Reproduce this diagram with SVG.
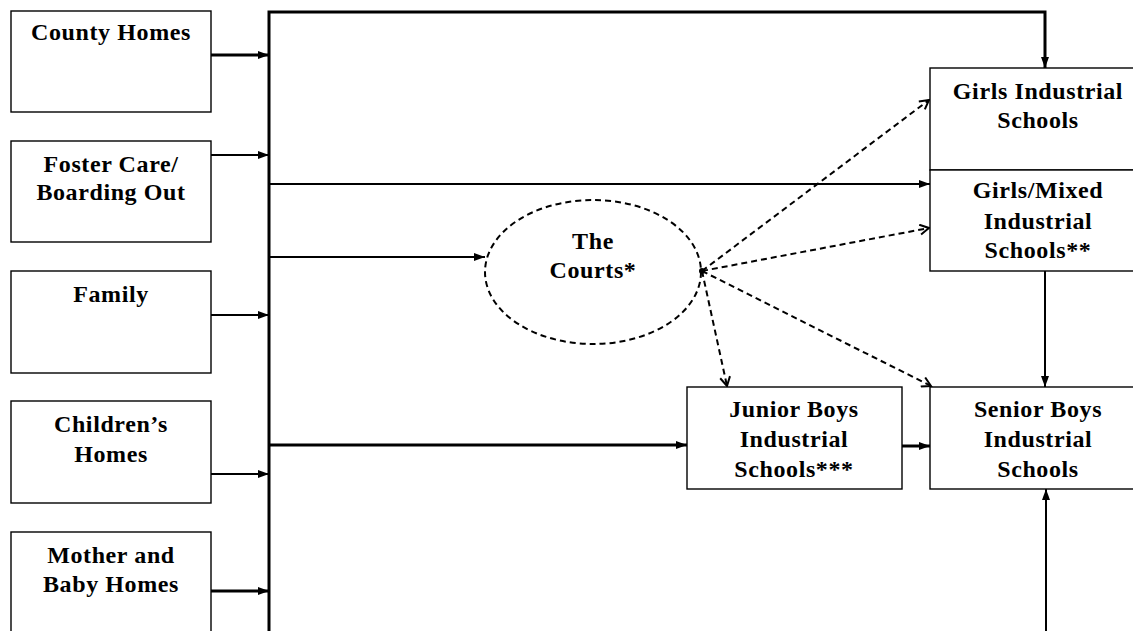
<svg xmlns="http://www.w3.org/2000/svg" width="1133" height="631" viewBox="0 0 1133 631">
<style>
.box{fill:#fff;stroke:#000;stroke-width:1.4}
.t{font-family:"Liberation Serif","Times New Roman",serif;font-weight:bold;font-size:24px;letter-spacing:0.6px;text-anchor:middle;fill:#000}
.ln{fill:none;stroke:#000;stroke-width:2}
.thick{stroke-width:3}
.dash{fill:none;stroke:#000;stroke-width:2;stroke-dasharray:6 4}
</style>
<defs>
<marker id="ah" markerUnits="userSpaceOnUse" markerWidth="12" markerHeight="10" refX="11" refY="5" orient="auto">
<path d="M0,1 L11,5 L0,9 Z" fill="#000"/>
</marker>
<marker id="oh" markerUnits="userSpaceOnUse" markerWidth="12" markerHeight="12" refX="10" refY="6" orient="auto">
<path d="M1,1 L10,6 L1,11" fill="none" stroke="#000" stroke-width="2"/>
</marker>
</defs>
<rect width="1133" height="631" fill="#fff"/>

<g id="connectors">
<polyline class="ln thick" points="269,631 269,12 1045,12 1045,68" marker-end="url(#ah)"/>
<line class="ln thick" x1="211" y1="55" x2="269" y2="55" marker-end="url(#ah)"/>
<line class="ln" x1="211" y1="155" x2="269" y2="155" marker-end="url(#ah)"/>
<line class="ln" x1="211" y1="315" x2="269" y2="315" marker-end="url(#ah)"/>
<line class="ln" x1="211" y1="474" x2="269" y2="474" marker-end="url(#ah)"/>
<line class="ln thick" x1="211" y1="591" x2="269" y2="591" marker-end="url(#ah)"/>
<line class="ln" x1="269" y1="184" x2="930" y2="184" marker-end="url(#ah)"/>
<line class="ln" x1="269" y1="257" x2="485" y2="257" marker-end="url(#ah)"/>
<line class="ln thick" x1="269" y1="445" x2="687" y2="445" marker-end="url(#ah)"/>
<line class="ln thick" x1="902" y1="446" x2="930" y2="446" marker-end="url(#ah)"/>
<line class="ln" x1="1045" y1="271" x2="1045" y2="387" marker-end="url(#ah)"/>
<line class="ln" x1="1046" y1="631" x2="1046" y2="489" marker-end="url(#ah)"/>
<line class="dash" x1="702" y1="271" x2="929" y2="100" marker-end="url(#oh)"/>
<line class="dash" x1="702" y1="271" x2="929" y2="228" marker-end="url(#oh)"/>
<line class="dash" x1="702" y1="271" x2="931" y2="386" marker-end="url(#oh)"/>
<line class="dash" x1="702" y1="271" x2="727" y2="386" marker-end="url(#oh)"/>
<circle cx="702" cy="271" r="3" fill="#000"/>
</g>

<g id="county-homes">
<rect class="box" x="11" y="11" width="200" height="101"/>
<text class="t" x="111" y="40">County Homes</text>
</g>
<g id="foster-care">
<rect class="box" x="11" y="141" width="200" height="101"/>
<text class="t" x="111" y="172">Foster Care/</text>
<text class="t" x="111" y="200">Boarding Out</text>
</g>
<g id="family">
<rect class="box" x="11" y="271" width="200" height="102"/>
<text class="t" x="111" y="302">Family</text>
</g>
<g id="childrens-homes">
<rect class="box" x="11" y="401" width="200" height="102"/>
<text class="t" x="111" y="432">Children’s</text>
<text class="t" x="111" y="462">Homes</text>
</g>
<g id="mother-baby-homes">
<rect class="box" x="11" y="532" width="200" height="110"/>
<text class="t" x="111" y="563">Mother and</text>
<text class="t" x="111" y="592">Baby Homes</text>
</g>
<g id="the-courts">
<ellipse cx="593" cy="272" rx="108" ry="72" class="dash"/>
<text class="t" x="593" y="249">The</text>
<text class="t" x="593" y="278">Courts*</text>
</g>
<g id="girls-industrial">
<rect class="box" x="930" y="68" width="215" height="102"/>
<text class="t" x="1038" y="99">Girls Industrial</text>
<text class="t" x="1038" y="128">Schools</text>
</g>
<g id="girls-mixed">
<rect class="box" x="930" y="170" width="215" height="101"/>
<text class="t" x="1038" y="198">Girls/Mixed</text>
<text class="t" x="1038" y="229">Industrial</text>
<text class="t" x="1038" y="258">Schools**</text>
</g>
<g id="junior-boys">
<rect class="box" x="687" y="387" width="215" height="102"/>
<text class="t" x="794" y="417">Junior Boys</text>
<text class="t" x="794" y="447">Industrial</text>
<text class="t" x="794" y="477">Schools***</text>
</g>
<g id="senior-boys">
<rect class="box" x="930" y="387" width="215" height="102"/>
<text class="t" x="1038" y="417">Senior Boys</text>
<text class="t" x="1038" y="447">Industrial</text>
<text class="t" x="1038" y="477">Schools</text>
</g>
</svg>
